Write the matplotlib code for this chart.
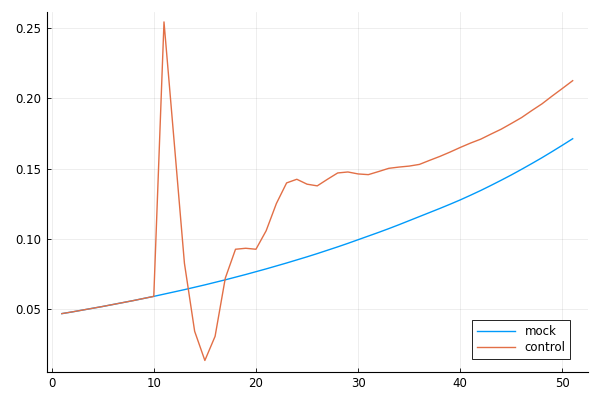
import matplotlib
matplotlib.use("Agg")
import matplotlib.pyplot as plt

x = list(range(1, 52))

mock = [0.0466, 0.0478, 0.0491, 0.0504, 0.0517, 0.0531, 0.0545, 0.0559, 0.0574, 0.0589,
        0.0605, 0.0621, 0.0637, 0.0654, 0.0671, 0.0689, 0.0707, 0.0726, 0.0745, 0.0765,
        0.0785, 0.0806, 0.0827, 0.0849, 0.0871, 0.0894, 0.0918, 0.0942, 0.0967, 0.0993,
        0.1019, 0.1045, 0.1072, 0.1100, 0.1129, 0.1158, 0.1187, 0.1216, 0.1246, 0.1277,
        0.1310, 0.1344, 0.1380, 0.1417, 0.1455, 0.1495, 0.1536, 0.1578, 0.1622, 0.1667,
        0.1713]

control = [0.0466, 0.0478, 0.0491, 0.0504, 0.0517, 0.0531, 0.0545, 0.0559, 0.0574, 0.0589,
           0.2546, 0.1687, 0.0825, 0.0340, 0.0132, 0.0304, 0.0719, 0.0925, 0.0932, 0.0925,
           0.1057, 0.1251, 0.1398, 0.1424, 0.1389, 0.1377, 0.1424, 0.1469, 0.1476, 0.1462,
           0.1457, 0.1479, 0.1502, 0.1511, 0.1518, 0.1530, 0.1559, 0.1587, 0.1618, 0.1651,
           0.1682, 0.1710, 0.1746, 0.1781, 0.1822, 0.1864, 0.1914, 0.1962, 0.2018, 0.2072,
           0.2127]

fig = plt.figure(figsize=(6, 4), dpi=100)
ax = fig.add_axes([0.0775, 0.0708, 0.9025, 0.9])

ax.plot(x, mock, color="#009AFA", lw=1, label="mock")
ax.plot(x, control, color="#E26F46", lw=1, label="control")

ax.set_xlim(-0.5, 52.5)
ax.set_ylim(0.0052, 0.2619)
ax.set_xticks([0, 10, 20, 30, 40, 50])
ax.set_yticks([0.05, 0.10, 0.15, 0.20, 0.25])
ax.set_yticklabels(["0.05", "0.10", "0.15", "0.20", "0.25"])

ax.grid(True, color="black", alpha=0.08, lw=0.6)
ax.set_axisbelow(True)
for s in ["top", "right"]:
    ax.spines[s].set_visible(False)
ax.tick_params(direction="in", length=3, labelsize=8.5, width=0.6, pad=4)

leg = ax.legend(loc="lower right", bbox_to_anchor=(0.967, 0.035), fontsize=8.5,
                fancybox=False, framealpha=1, edgecolor="black", borderaxespad=0,
                handlelength=3.2, borderpad=0.4, labelspacing=0.3)
leg.get_frame().set_linewidth(0.6)

fig.savefig("out.png", dpi=100)
